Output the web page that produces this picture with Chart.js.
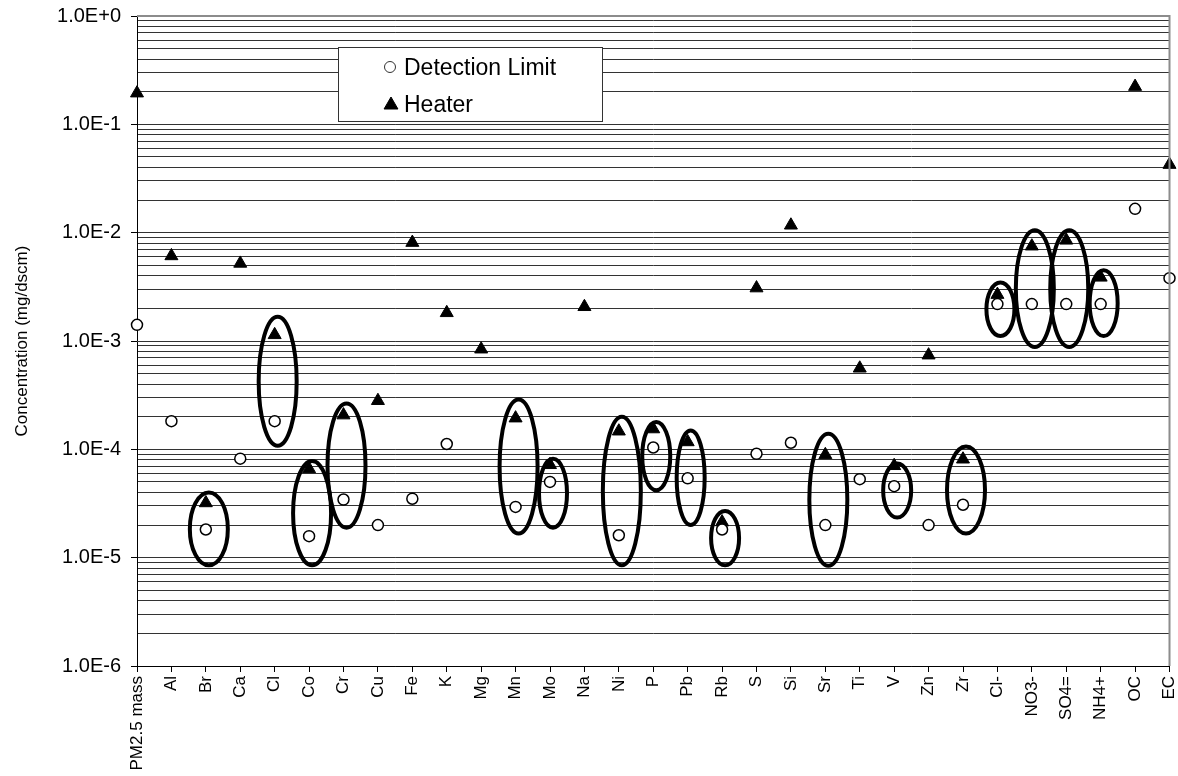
<!DOCTYPE html>
<html>
<head>
<meta charset="utf-8">
<title>Concentration by species</title>
<script src="https://cdn.jsdelivr.net/npm/chart.js@4.4.1/dist/chart.umd.min.js"></script>
<style>
  html, body { margin: 0; padding: 0; background: #fff; }
  #wrap { width: 1178px; height: 776px; }
</style>
</head>
<body>
<div id="wrap"><canvas id="concChart" width="1178" height="776"></canvas></div>
<script>
var species = ['PM2.5 mass', 'Al', 'Br', 'Ca', 'Cl', 'Co', 'Cr', 'Cu', 'Fe', 'K', 'Mg', 'Mn', 'Mo', 'Na',
  'Ni', 'P', 'Pb', 'Rb', 'S', 'Si', 'Sr', 'Ti', 'V', 'Zn', 'Zr', 'Cl-', 'NO3-', 'SO4=', 'NH4+', 'OC', 'EC'];

// mg/dscm, null where no limit was reported
var detectionLimit = [1.41e-3, 1.82e-4, 1.82e-5, 8.2e-5, 1.82e-4, 1.58e-5, 3.44e-5, 2.0e-5, 3.5e-5, 1.12e-4,
  null, 2.94e-5, 5.0e-5, null, 1.61e-5, 1.04e-4, 5.4e-5, 1.82e-5, 9.1e-5, 1.15e-4, 2.0e-5, 5.3e-5, 4.57e-5,
  2.0e-5, 3.08e-5, 2.19e-3, 2.19e-3, 2.19e-3, 2.19e-3, 1.66e-2, 3.8e-3];

var heater = [0.194, 6.1e-3, 3.2e-5, 5.2e-3, 1.14e-3, 6.6e-5, 2.07e-4, 2.81e-4, 8.1e-3, 1.82e-3,
  8.4e-4, 1.94e-4, 7.2e-5, 2.07e-3, 1.47e-4, 1.54e-4, 1.17e-4, 2.13e-5, 3.08e-3, 1.17e-2, 8.9e-5, 5.6e-4,
  7.05e-5, 7.4e-4, 8.1e-5, 2.68e-3, 7.5e-3, 8.5e-3, 3.87e-3, 0.223, 4.25e-2];

// species ringed on the plot, with the bottom and top of each ring (mg/dscm)
var ringed = ['Br', 'Cl', 'Co', 'Cr', 'Mn', 'Mo', 'Ni', 'P', 'Pb', 'Rb', 'Sr', 'V', 'Zr', 'Cl-', 'NO3-', 'SO4=', 'NH4+'];
var ringLow = [8.5e-6, 1.08e-4, 8.5e-6, 1.89e-5, 1.67e-5, 1.89e-5, 8.5e-6, 4.2e-5, 2.0e-5, 8.5e-6, 8.4e-6,
  2.35e-5, 1.67e-5, 1.11e-3, 8.8e-4, 8.8e-4, 1.11e-3];
var ringHigh = [4.0e-5, 1.67e-3, 7.8e-5, 2.65e-4, 2.88e-4, 8.2e-5, 2.0e-4, 1.79e-4, 1.49e-4, 2.7e-5, 1.39e-4,
  7.4e-5, 1.06e-4, 3.47e-3, 1.05e-2, 1.05e-2, 4.5e-3];

var decadeLabels = ['1.0E-6', '1.0E-5', '1.0E-4', '1.0E-3', '1.0E-2', '1.0E-1', '1.0E+0'];

var FONT = "'Liberation Sans', Arial, sans-serif";
var narrowRings = ['Mo', 'P', 'Pb', 'Rb', 'V', 'Cl-', 'NH4+'];

function decadeOf(v) {
  var e = Math.log10(v);
  var r = Math.round(e);
  return Math.abs(e - r) < 1e-6 ? r : null;
}

// ellipses round the paired points
var rings = {
  id: 'rings',
  afterDatasetsDraw: function(chart) {
    var ctx = chart.ctx, xs = chart.scales.x, ys = chart.scales.y;
    ctx.save();
    ctx.lineWidth = 4;
    ctx.strokeStyle = '#000';
    ringed.forEach(function(name, i) {
      var cx = xs.getPixelForValue(species.indexOf(name)) + 3;
      var top = ys.getPixelForValue(ringHigh[i]);
      var bot = ys.getPixelForValue(ringLow[i]);
      var rx = narrowRings.indexOf(name) >= 0 ? 14 : 19;
      ctx.beginPath();
      ctx.ellipse(cx, (top + bot) / 2, rx, (bot - top) / 2, 0, 0, Math.PI * 2);
      ctx.stroke();
    });
    ctx.restore();
  }
};

// grey frame on the top and right, plus the boxed legend
var frameAndKey = {
  id: 'frameAndKey',
  afterDraw: function(chart) {
    var ctx = chart.ctx, a = chart.chartArea;
    ctx.save();
    ctx.strokeStyle = '#8c8c8c';
    ctx.lineWidth = 2;
    ctx.beginPath();
    ctx.moveTo(a.left, a.top);
    ctx.lineTo(a.right, a.top);
    ctx.lineTo(a.right, a.bottom);
    ctx.stroke();

    ctx.fillStyle = '#fff';
    ctx.fillRect(338, 47, 265, 74);
    ctx.strokeStyle = '#333';
    ctx.lineWidth = 1;
    ctx.strokeRect(338.5, 47.5, 264, 74);

    Chart.helpers.drawPoint(ctx, { pointStyle: 'circle', radius: 5.5, borderWidth: 1.5, rotation: 0 }, 390, 67);
    ctx.fillStyle = '#000';
    ctx.strokeStyle = '#000';
    Chart.helpers.drawPoint(ctx, { pointStyle: 'triangle', radius: 8, borderWidth: 1, rotation: 0 }, 391, 105);

    ctx.fillStyle = '#000';
    ctx.font = '23px ' + FONT;
    ctx.textBaseline = 'alphabetic';
    ctx.textAlign = 'left';
    ctx.fillText('Detection Limit', 404, 75);
    ctx.fillText('Heater', 404, 112);
    ctx.restore();
  }
};

var concChart = new Chart(document.getElementById('concChart'), {
  type: 'line',
  data: {
    labels: species,
    datasets: [{
      label: 'Detection Limit',
      data: detectionLimit,
      showLine: false,
      pointStyle: 'circle',
      pointRadius: 5.5,
      pointBorderWidth: 1.5,
      pointBorderColor: '#000',
      pointBackgroundColor: '#fff',
      clip: false
    }, {
      label: 'Heater',
      data: heater,
      showLine: false,
      pointStyle: 'triangle',
      pointRadius: 7.5,
      pointBorderWidth: 1,
      pointBorderColor: '#000',
      pointBackgroundColor: '#000',
      clip: false
    }]
  },
  options: {
    responsive: false,
    animation: false,
    events: [],
    layout: { padding: { left: 0, top: 16, right: 7, bottom: 0 } },
    plugins: {
      legend: { display: false },
      tooltip: { enabled: false }
    },
    scales: {
      x: {
        type: 'category',
        offset: false,
        grid: { drawOnChartArea: false, drawTicks: true, tickLength: 6, tickColor: '#000' },
        border: { color: '#000', width: 1 },
        ticks: {
          autoSkip: false,
          maxRotation: 90,
          minRotation: 90,
          padding: 4,
          color: '#000',
          font: { family: FONT, size: 17 }
        },
        afterFit: function(scale) {
          scale.height = 110;
          scale.paddingLeft = 0;
          scale.paddingRight = 0;
        }
      },
      y: {
        type: 'logarithmic',
        min: 1e-6,
        max: 1,
        grid: {
          color: '#333',
          lineWidth: 1,
          tickLength: 6,
          tickColor: function(c) { return decadeOf(c.tick.value) !== null ? '#000' : 'rgba(0,0,0,0)'; }
        },
        border: { color: '#000', width: 1 },
        ticks: {
          autoSkip: false,
          padding: 10,
          color: '#000',
          font: { family: FONT, size: 20 },
          callback: function(v) {
            var e = decadeOf(v);
            return e === null ? '' : decadeLabels[e + 6];
          }
        },
        title: {
          display: true,
          text: 'Concentration (mg/dscm)',
          color: '#000',
          font: { family: FONT, size: 17 },
          padding: { top: 12, bottom: 0 }
        },
        afterBuildTicks: function(scale) {
          var t = [];
          for (var e = -6; e <= 0; e++) {
            for (var m = 1; m <= 9; m++) {
              if (e === 0 && m > 1) break;
              t.push({ value: m * Math.pow(10, e) });
            }
          }
          scale.ticks = t;
        },
        afterFit: function(scale) {
          scale.width = 137;
          scale.paddingTop = 0;
          scale.paddingBottom = 0;
        }
      }
    }
  },
  plugins: [rings, frameAndKey]
});
</script>
</body>
</html>
